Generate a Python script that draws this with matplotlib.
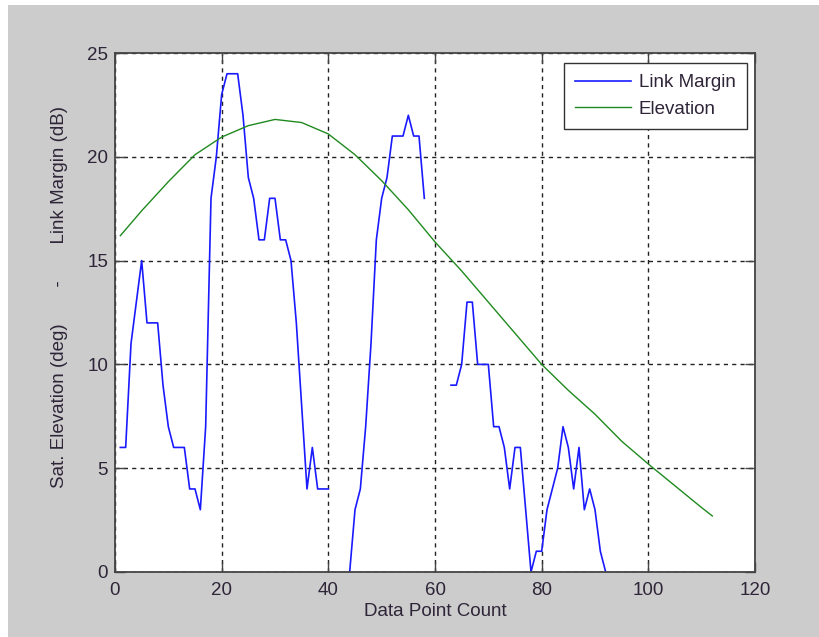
import numpy as np
import matplotlib.pyplot as plt
from matplotlib.patches import Rectangle

plt.rcParams['font.family'] = ['Liberation Sans', 'DejaVu Sans']

nan = np.nan
# data point index for the link margin samples (gaps = no reading)
count = list(range(1, 93))
link_margin = [6, 6, 11, 13, 15, 12, 12, 12, 9, 7,
               6, 6, 6, 4, 4, 3, 7, 18, 20, 23,
               24, 24, 24, 22, 19, 18, 16, 16, 18, 18,
               16, 16, 15, 12, 8, 4, 6, 4, 4, 4,
               nan, nan, nan, 0, 3, 4, 7, 11, 16, 18,
               19, 21, 21, 21, 22, 21, 21, 18, nan, nan,
               nan, nan, 9, 9, 10, 13, 13, 10, 10, 10,
               7, 7, 6, 4, 6, 6, 3, 0, 1, 1,
               3, 4, 5, 7, 6, 4, 6, 3, 4, 3,
               1, 0]

# satellite elevation
elev_x = [1, 5, 10, 15, 20, 25, 30, 35, 40, 45, 50, 55, 60, 65, 70,
          75, 80, 85, 90, 95, 100, 105, 110, 112]
elev = [16.2, 17.4, 18.8, 20.1, 20.95, 21.5, 21.8, 21.65, 21.1, 20.1,
        18.85, 17.45, 15.9, 14.5, 13.0, 11.5, 10.0, 8.75, 7.6, 6.3,
        5.2, 4.15, 3.1, 2.7]

xticks = [0, 20, 40, 60, 80, 100, 120]
yticks = [0, 5, 10, 15, 20, 25]

txt = '#2e2538'

fig = plt.figure(figsize=(8.19, 6.37), dpi=100, facecolor='white')
# gray matlab-style figure area, small white strip top/left
fig.patches.append(Rectangle((8 / 819, 0), 1, 1 - 5 / 637, transform=fig.transFigure,
                             facecolor='#cccccc', edgecolor='none', zorder=-10))

ax = fig.add_axes([115 / 819, 1 - 572 / 637, 640 / 819, 519 / 637])
ax.set_facecolor('white')

ax.plot(count, link_margin, color='#1a1aff', lw=1.2, label='Link Margin')
ax.plot(elev_x, elev, color='#1f8a1f', lw=1.0, label='Elevation')

ax.set_xlim(0, 120)
ax.set_ylim(0, 25)
ax.set_xticks(xticks)
ax.set_yticks(yticks)

ax.grid(True, color='#222222', linestyle=(0, (3, 3)), linewidth=1.0)
ax.set_axisbelow(True)

for s in ax.spines.values():
    s.set_color('#444444')
    s.set_linewidth(1.3)

ax.tick_params(direction='in', length=7, width=1.0, color='#444444',
               top=True, right=True, labelsize=13.5, labelcolor=txt)
ax.tick_params(axis='x', pad=7)
ax.tick_params(axis='y', pad=5)

ax.set_xlabel('Data Point Count', fontsize=13.5, color=txt, labelpad=3)
ax.set_ylabel('Sat. Elevation (deg)       -       Link Margin (dB)',
              fontsize=13.5, color=txt)
ax.yaxis.set_label_coords(-0.073, 0.53)

leg = ax.legend(loc='upper right', bbox_to_anchor=(0.9875, 0.981), borderaxespad=0,
                fontsize=13.5, fancybox=False, framealpha=1, edgecolor='#333333',
                handlelength=3.0, handletextpad=0.4, borderpad=0.6, labelspacing=0.5)
leg.get_frame().set_linewidth(1.0)
for t in leg.get_texts():
    t.set_color(txt)

fig.savefig('out.png', dpi=100, facecolor=fig.get_facecolor())
